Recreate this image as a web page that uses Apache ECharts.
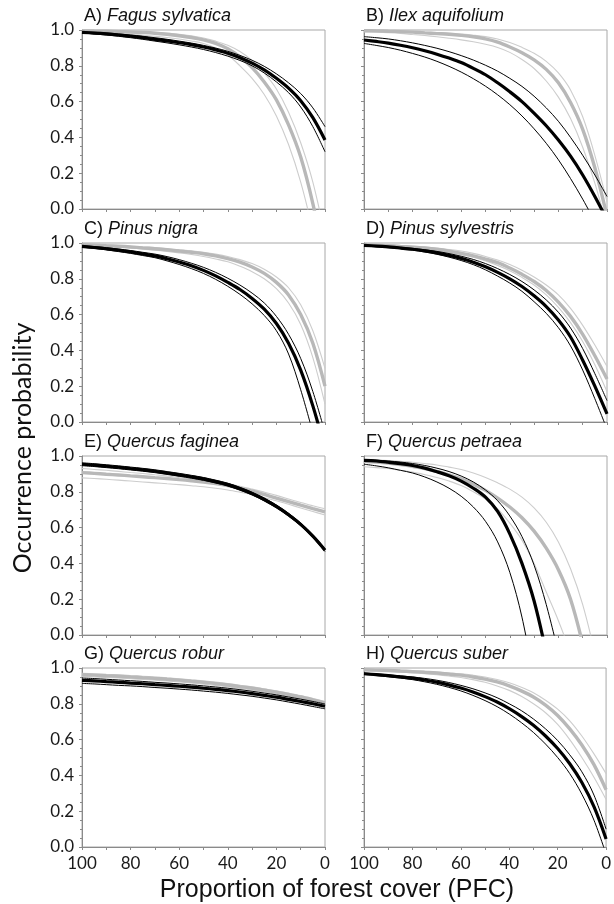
<!DOCTYPE html>
<html>
<head>
<meta charset="utf-8">
<script src="https://cdn.jsdelivr.net/npm/echarts@6/dist/echarts.min.js"></script>
<style>
html,body{margin:0;padding:0;background:#fff;}
#chart{width:614px;height:904px;}
</style>
</head>
<body>
<div id="chart"></div>
<script>
// x values: proportion of forest cover (PFC)
const pfc = [100,95,90,85,80,75,70,65,60,55,50,45,40,35,30,25,20,15,10,5,0];
const xTickLabels = [100,80,60,40,20,0];
const yTickLabels = ['0.0','0.2','0.4','0.6','0.8','1.0'];

const panelLetters = ['A)','B)','C)','D)','E)','F)','G)','H)'];
const speciesNames = ['Fagus sylvatica','Ilex aquifolium','Pinus nigra','Pinus sylvestris','Quercus faginea','Quercus petraea','Quercus robur','Quercus suber'];

// A) Fagus sylvatica
const A_black   = [.987,.983,.978,.972,.965,.957,.948,.939,.929,.918,.905,.889,.870,.845,.815,.777,.730,.675,.605,.510,.385];
const A_blackHi = [.990,.987,.983,.978,.972,.965,.957,.948,.938,.927,.914,.899,.881,.858,.831,.797,.755,.705,.645,.565,.460];
const A_blackLo = [.983,.978,.972,.965,.957,.948,.938,.928,.917,.905,.891,.874,.854,.830,.800,.760,.710,.650,.570,.460,.320];
const A_gray    = [.995,.994,.993,.991,.989,.986,.982,.976,.968,.958,.945,.925,.895,.850,.790,.710,.610,.470,.290,.030,-.300];
const A_grayHi  = [.997,.996,.995,.994,.992,.990,.987,.982,.976,.967,.955,.938,.915,.880,.830,.760,.670,.540,.370,.150,-.150];
const A_grayLo  = [.990,.988,.985,.981,.976,.971,.965,.958,.950,.939,.925,.900,.860,.800,.730,.640,.520,.360,.150,-.120,null];

// B) Ilex aquifolium
const B_black   = [.944,.936,.927,.915,.901,.884,.865,.843,.818,.786,.750,.705,.655,.600,.535,.465,.385,.295,.190,.070,-.060];
const B_blackHi = [.963,.957,.950,.940,.928,.914,.898,.879,.857,.832,.803,.770,.730,.685,.630,.565,.490,.400,.300,.190,.070];
const B_blackLo = [.925,.914,.902,.887,.869,.849,.825,.797,.765,.728,.686,.638,.583,.520,.448,.367,.275,.170,.055,-.070,null];
const B_gray    = [.996,.995,.993,.991,.988,.984,.980,.976,.970,.962,.950,.932,.905,.873,.833,.780,.705,.595,.445,.230,-.040];
const B_grayHi  = [.998,.997,.996,.994,.992,.989,.986,.982,.977,.971,.963,.950,.930,.903,.870,.825,.760,.665,.515,.300,.040];
const B_grayLo  = [.990,.988,.985,.981,.975,.969,.962,.954,.945,.934,.920,.902,.875,.835,.785,.715,.625,.505,.345,.145,-.100];

// C) Pinus nigra
const C_black   = [.981,.975,.968,.960,.950,.940,.928,.912,.894,.873,.847,.816,.780,.740,.690,.630,.550,.440,.290,.090,-.150];
const C_blackHi = [.985,.980,.974,.966,.958,.948,.938,.924,.907,.887,.864,.836,.803,.765,.720,.665,.590,.490,.355,.170,-.060];
const C_blackLo = [.977,.970,.962,.952,.942,.930,.918,.900,.880,.857,.830,.797,.758,.713,.660,.595,.510,.380,.180,-.060,null];
const C_gray    = [.990,.988,.985,.982,.978,.973,.968,.962,.955,.948,.940,.928,.913,.893,.866,.830,.780,.710,.600,.440,.200];
const C_grayHi  = [.993,.991,.989,.986,.982,.978,.974,.968,.962,.956,.948,.938,.925,.907,.885,.853,.810,.750,.655,.510,.300];
const C_grayLo  = [.987,.984,.981,.977,.972,.966,.960,.953,.945,.936,.925,.911,.895,.870,.840,.800,.745,.665,.545,.360,.100];

// D) Pinus sylvestris
const D_black   = [.987,.983,.978,.972,.965,.956,.945,.931,.914,.893,.867,.836,.800,.757,.705,.645,.570,.475,.345,.200,.045];
const D_blackHi = [.989,.985,.981,.976,.970,.962,.953,.941,.926,.908,.885,.857,.824,.785,.738,.682,.613,.525,.410,.270,.120];
const D_blackLo = [.985,.980,.974,.968,.960,.950,.937,.921,.902,.879,.850,.815,.776,.730,.672,.607,.527,.425,.290,.130,-.040];
const D_gray    = [.990,.988,.985,.981,.977,.972,.965,.955,.942,.928,.910,.890,.860,.825,.785,.735,.670,.590,.490,.370,.240];
const D_grayHi  = [.993,.991,.989,.986,.982,.977,.971,.964,.955,.942,.925,.905,.880,.848,.810,.765,.710,.635,.540,.430,.310];
const D_grayLo  = [.988,.985,.982,.977,.972,.965,.956,.946,.935,.920,.900,.875,.845,.808,.765,.710,.640,.555,.450,.320,.170];

// E) Quercus faginea
const E_black   = [.954,.949,.943,.937,.930,.923,.915,.905,.895,.884,.872,.857,.840,.817,.790,.757,.718,.672,.618,.552,.474];
const E_blackHi = [.962,.957,.951,.945,.938,.931,.923,.913,.903,.892,.880,.865,.848,.825,.798,.765,.726,.680,.626,.560,.482];
const E_blackLo = [.946,.941,.935,.929,.922,.915,.907,.897,.887,.876,.864,.849,.832,.809,.782,.749,.710,.664,.610,.544,.466];
const E_gray    = [.907,.903,.898,.894,.889,.884,.879,.874,.868,.862,.855,.846,.835,.821,.804,.785,.765,.745,.725,.706,.688];
const E_grayHi  = [.930,.925,.920,.914,.908,.902,.895,.888,.880,.873,.865,.856,.845,.831,.815,.798,.780,.760,.740,.722,.705];
const E_grayLo  = [.878,.874,.870,.865,.860,.855,.850,.845,.840,.834,.828,.820,.810,.798,.785,.768,.750,.730,.710,.690,.670];

// F) Quercus petraea
const F_black   = [.976,.972,.965,.957,.947,.932,.912,.890,.860,.820,.770,.690,.565,.400,.190,-.100,null,null,null,null,null];
const F_blackHi = [.980,.977,.972,.966,.958,.947,.932,.913,.888,.855,.810,.750,.665,.550,.390,.170,-.100,null,null,null,null];
const F_blackLo = [.954,.945,.934,.920,.905,.883,.855,.820,.775,.715,.635,.520,.350,.100,-.250,null,null,null,null,null,null];
const F_gray    = [.970,.966,.960,.952,.942,.930,.914,.895,.872,.843,.808,.765,.715,.655,.580,.485,.365,.200,-.050,null,null];
const F_grayHi  = [.980,.978,.975,.970,.965,.958,.950,.938,.925,.905,.880,.850,.815,.770,.710,.630,.520,.370,.170,-.100,null];
const F_grayLo  = [.940,.935,.930,.920,.910,.896,.880,.860,.835,.800,.760,.705,.625,.530,.400,.240,.080,-.100,null,null,null];

// G) Quercus robur
const G_black   = [.931,.928,.924,.920,.916,.912,.907,.903,.898,.893,.887,.881,.874,.866,.857,.847,.837,.825,.813,.800,.786];
const G_blackHi = [.944,.941,.937,.933,.929,.925,.920,.916,.911,.906,.900,.894,.887,.879,.870,.860,.850,.838,.826,.813,.799];
const G_blackLo = [.914,.911,.907,.903,.900,.896,.891,.887,.882,.877,.871,.865,.858,.850,.842,.832,.822,.810,.798,.785,.772];
const G_gray    = [.963,.960,.957,.954,.950,.946,.942,.937,.932,.926,.920,.913,.905,.896,.887,.876,.865,.852,.838,.822,.805];
const G_grayHi  = [.971,.968,.965,.962,.958,.954,.950,.945,.940,.934,.928,.921,.913,.904,.895,.884,.873,.860,.846,.830,.813];
const G_grayLo  = [.953,.950,.947,.944,.940,.936,.932,.927,.922,.916,.910,.903,.895,.886,.877,.866,.855,.842,.828,.812,.795];

// H) Quercus suber
const H_black   = [.968,.963,.957,.950,.943,.933,.921,.906,.888,.866,.840,.810,.773,.730,.680,.620,.550,.465,.360,.225,.045];
const H_blackHi = [.972,.967,.962,.956,.950,.942,.932,.919,.903,.884,.861,.834,.800,.762,.715,.660,.595,.515,.420,.290,.100];
const H_blackLo = [.964,.958,.951,.944,.935,.923,.909,.892,.872,.847,.818,.784,.743,.695,.640,.575,.500,.410,.295,.150,-.040];
const H_gray    = [.990,.988,.986,.983,.980,.976,.972,.966,.960,.950,.938,.922,.900,.872,.838,.793,.735,.660,.570,.460,.320];
const H_grayHi  = [.992,.991,.989,.987,.984,.981,.977,.973,.968,.960,.950,.936,.918,.893,.862,.820,.770,.705,.620,.520,.410];
const H_grayLo  = [.986,.984,.981,.977,.973,.968,.962,.955,.947,.935,.920,.900,.875,.842,.800,.750,.685,.600,.500,.390,.266];

const panels = [
  [A_grayHi,A_grayLo,A_gray,A_blackHi,A_blackLo,A_black],
  [B_grayHi,B_grayLo,B_gray,B_blackHi,B_blackLo,B_black],
  [C_grayHi,C_grayLo,C_gray,C_blackHi,C_blackLo,C_black],
  [D_grayHi,D_grayLo,D_gray,D_blackHi,D_blackLo,D_black],
  [E_grayHi,E_grayLo,E_gray,E_blackHi,E_blackLo,E_black],
  [F_grayHi,F_grayLo,F_gray,F_blackHi,F_blackLo,F_black],
  [G_grayHi,G_grayLo,G_gray,G_blackHi,G_blackLo,G_black],
  [H_grayHi,H_grayLo,H_gray,H_blackHi,H_blackLo,H_black]
];
const lineStyles = [
  {color:'#cdcdcd', width:1.1},
  {color:'#cdcdcd', width:1.1},
  {color:'#b8b8b8', width:3.4},
  {color:'#000', width:1},
  {color:'#000', width:1},
  {color:'#000', width:3.2}
];

const colLeft = [82, 364];
const rowTop = [30, 243, 456, 668];
const W = 243, H = 179;

const grids = [], xAxes = [], yAxes = [], series = [], titles = [];
for (let i = 0; i < 8; i++) {
  const c = i % 2, r = Math.floor(i / 2);
  grids.push({left: colLeft[c], top: rowTop[r], width: W, height: H,
    show: true, borderColor: '#a8a8a8', borderWidth: 1, backgroundColor: 'transparent', containLabel: false});
  xAxes.push({gridIndex: i, type: 'value', min: 0, max: 100, interval: 10, inverse: true, position: 'bottom',
    axisLine: {show: true, onZero: false, lineStyle: {color: '#8a8a8a', width: 1}},
    axisTick: {show: true, length: 3, lineStyle: {color: '#8a8a8a'}},
    splitLine: {show: false},
    axisLabel: {show: r === 3, margin: 8, fontSize: 17, color: '#1a1a1a', fontFamily: 'Lato',
      formatter: v => (xTickLabels.indexOf(v) >= 0 ? String(v) : '')}
  });
  yAxes.push({gridIndex: i, type: 'value', min: 0, max: 1, interval: 0.2, position: 'left',
    axisLine: {show: true, onZero: false, lineStyle: {color: '#8a8a8a', width: 1}},
    axisTick: {show: true, length: 3, lineStyle: {color: '#8a8a8a'}},
    minorTick: {show: true, splitNumber: 4, length: 2, lineStyle: {color: '#8a8a8a'}},
    splitLine: {show: false},
    axisLabel: {show: c === 0, margin: 8, fontSize: 17, color: '#1a1a1a', fontFamily: 'Lato',
      formatter: v => yTickLabels[Math.round(v * 5)]}
  });
  panels[i].forEach((arr, k) => {
    const data = [];
    arr.forEach((v, j) => { if (v !== null) data.push([pfc[j], v]); });
    series.push({type: 'line', xAxisIndex: i, yAxisIndex: i, data: data,
      symbol: 'none', smooth: 0.35, clip: true, silent: true,
      lineStyle: lineStyles[k], z: 2 + k});
  });
  titles.push({text: '{n|' + panelLetters[i] + '} {s|' + speciesNames[i] + '}',
    left: colLeft[c] + 2, top: rowTop[r] - 23, padding: 0,
    textStyle: {fontWeight: 'normal', rich: {
      n: {fontSize: 18, fontFamily: 'Liberation Sans', fontWeight: 'normal', color: '#111'},
      s: {fontSize: 18, fontFamily: 'Liberation Sans', fontStyle: 'italic', fontWeight: 'normal', color: '#111'}
    }}});
}

const chart = echarts.init(document.getElementById('chart'), null, {renderer: 'canvas'});
chart.setOption({
  animation: false,
  backgroundColor: '#fff',
  title: titles,
  grid: grids, xAxis: xAxes, yAxis: yAxes, series: series,
  graphic: [
    {type: 'text', x: 23, y: 448, rotation: Math.PI / 2,
      style: {text: 'Occurrence probability', font: '25px Lato', fill: '#111', textAlign: 'center', textVerticalAlign: 'middle'}},
    {type: 'text', x: 337, y: 890,
      style: {text: 'Proportion of forest cover (PFC)', font: '25px "Liberation Sans"', fill: '#111', textAlign: 'center', textVerticalAlign: 'middle'}}
  ]
});
</script>
</body>
</html>
